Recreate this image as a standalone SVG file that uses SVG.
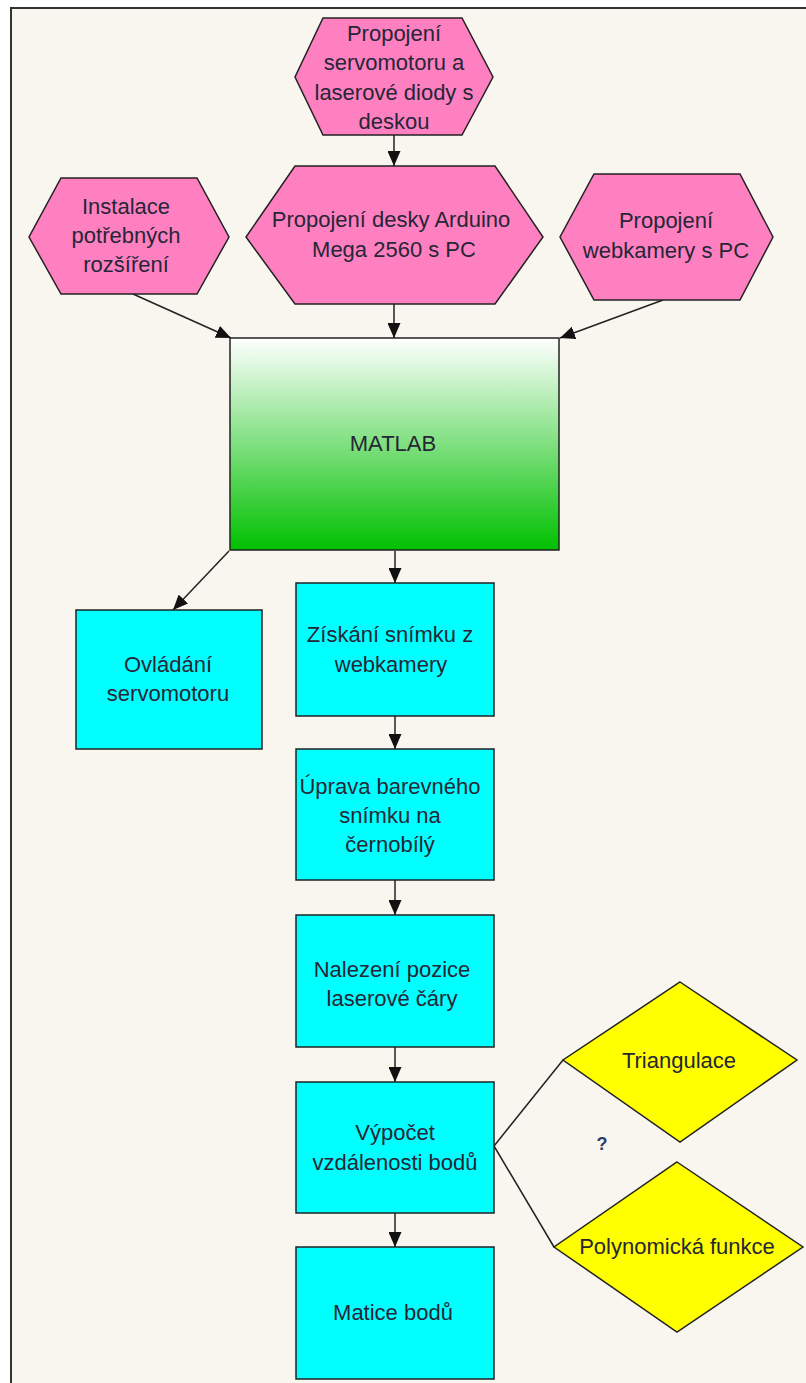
<svg xmlns="http://www.w3.org/2000/svg" width="806" height="1383" viewBox="0 0 806 1383">
<defs>
<linearGradient id="gm" x1="0" y1="0" x2="0" y2="1">
<stop offset="0" stop-color="#ffffff"/>
<stop offset="1" stop-color="#00c000"/>
</linearGradient>
<marker id="ah" markerWidth="15" markerHeight="13" refX="15" refY="6.5" orient="auto" markerUnits="userSpaceOnUse">
<path d="M0,0 L15,6.5 L0,13 Z" fill="#111"/>
</marker>
<style>
.hex{fill:#ff80c0;stroke:#222;stroke-width:1.5}
.box{fill:#00ffff;stroke:#222;stroke-width:1.5}
.dia{fill:#ffff00;stroke:#222;stroke-width:1.5}
.t{font-family:"Liberation Sans",Arial,sans-serif;font-size:22px;fill:#262636;text-anchor:middle}
.c{stroke:#222;stroke-width:1.5;fill:none}
.ca{stroke:#222;stroke-width:1.5;fill:none;marker-end:url(#ah)}
</style>
</defs>
<rect x="0" y="0" width="806" height="1383" fill="#ffffff"/>
<rect x="11" y="8" width="820" height="1400" fill="#f9f6f0" stroke="#333" stroke-width="2"/>

<g id="connectors">
<line class="ca" x1="394" y1="135" x2="394" y2="166"/>
<line class="ca" x1="394" y1="304" x2="394" y2="338"/>
<line class="ca" x1="133" y1="294" x2="231" y2="338"/>
<line class="ca" x1="663" y1="300" x2="560" y2="338"/>
<line class="ca" x1="229" y1="551" x2="173" y2="610"/>
<line class="ca" x1="395" y1="551" x2="395" y2="583"/>
<line class="ca" x1="395" y1="716" x2="395" y2="749"/>
<line class="ca" x1="395" y1="880" x2="395" y2="915"/>
<line class="ca" x1="395" y1="1047" x2="395" y2="1082"/>
<line class="ca" x1="395" y1="1213" x2="395" y2="1247"/>
<polyline class="c" points="563,1060 494,1146 554,1247"/>
</g>

<g id="n_top">
<polygon class="hex" points="323,18 462,18 493,77 462,135 323,135 295,77"/>
<text class="t" x="394" y="41">Propojení</text>
<text class="t" x="394" y="70">servomotoru a</text>
<text class="t" x="394" y="100">laserové diody s</text>
<text class="t" x="394" y="129">deskou</text>
</g>

<g id="n_arduino">
<polygon class="hex" points="295,166 495,166 543,237 495,304 295,304 246,237"/>
<text class="t" x="391" y="227">Propojení desky Arduino</text>
<text class="t" x="394" y="257">Mega 2560 s PC</text>
</g>

<g id="n_instalace">
<polygon class="hex" points="61,178 197,178 229,237 197,294 61,294 29,237"/>
<text class="t" x="126" y="214">Instalace</text>
<text class="t" x="126" y="243">potřebných</text>
<text class="t" x="126" y="272">rozšíření</text>
</g>

<g id="n_webkamera">
<polygon class="hex" points="594,174 740,174 773,237 740,300 594,300 560,237"/>
<text class="t" x="666" y="228">Propojení</text>
<text class="t" x="666" y="258">webkamery s PC</text>
</g>

<g id="n_matlab">
<rect x="230" y="338" width="329" height="212" fill="url(#gm)" stroke="#222" stroke-width="1.5"/>
<text class="t" x="393" y="451">MATLAB</text>
</g>

<g id="n_ovladani">
<rect class="box" x="76" y="610" width="186" height="139"/>
<text class="t" x="168" y="672">Ovládání</text>
<text class="t" x="168" y="701">servomotoru</text>
</g>

<g id="n_ziskani">
<rect class="box" x="296" y="583" width="198" height="133"/>
<text class="t" x="390" y="642">Získání snímku z</text>
<text class="t" x="391" y="672">webkamery</text>
</g>

<g id="n_uprava">
<rect class="box" x="296" y="749" width="198" height="131"/>
<text class="t" x="390" y="794">Úprava barevného</text>
<text class="t" x="390" y="823">snímku na</text>
<text class="t" x="390" y="852">černobílý</text>
</g>

<g id="n_nalezeni">
<rect class="box" x="296" y="915" width="198" height="132"/>
<text class="t" x="392" y="977">Nalezení pozice</text>
<text class="t" x="392" y="1006">laserové čáry</text>
</g>

<g id="n_vypocet">
<rect class="box" x="296" y="1082" width="198" height="131"/>
<text class="t" x="395" y="1140">Výpočet</text>
<text class="t" x="395" y="1170">vzdálenosti bodů</text>
</g>

<g id="n_matice">
<rect class="box" x="296" y="1247" width="198" height="132"/>
<text class="t" x="393" y="1320">Matice bodů</text>
</g>

<g id="n_triangulace">
<polygon class="dia" points="680,982 797,1060 680,1142 563,1060"/>
<text class="t" x="679" y="1068">Triangulace</text>
</g>

<g id="n_polynom">
<polygon class="dia" points="677,1162 803,1247 677,1332 554,1247"/>
<text class="t" x="677" y="1254">Polynomická funkce</text>
</g>

<g id="q">
<text x="602" y="1150" font-family="Liberation Sans, Arial, sans-serif" font-size="18" font-weight="bold" fill="#2c3e66" text-anchor="middle">?</text>
</g>
</svg>
